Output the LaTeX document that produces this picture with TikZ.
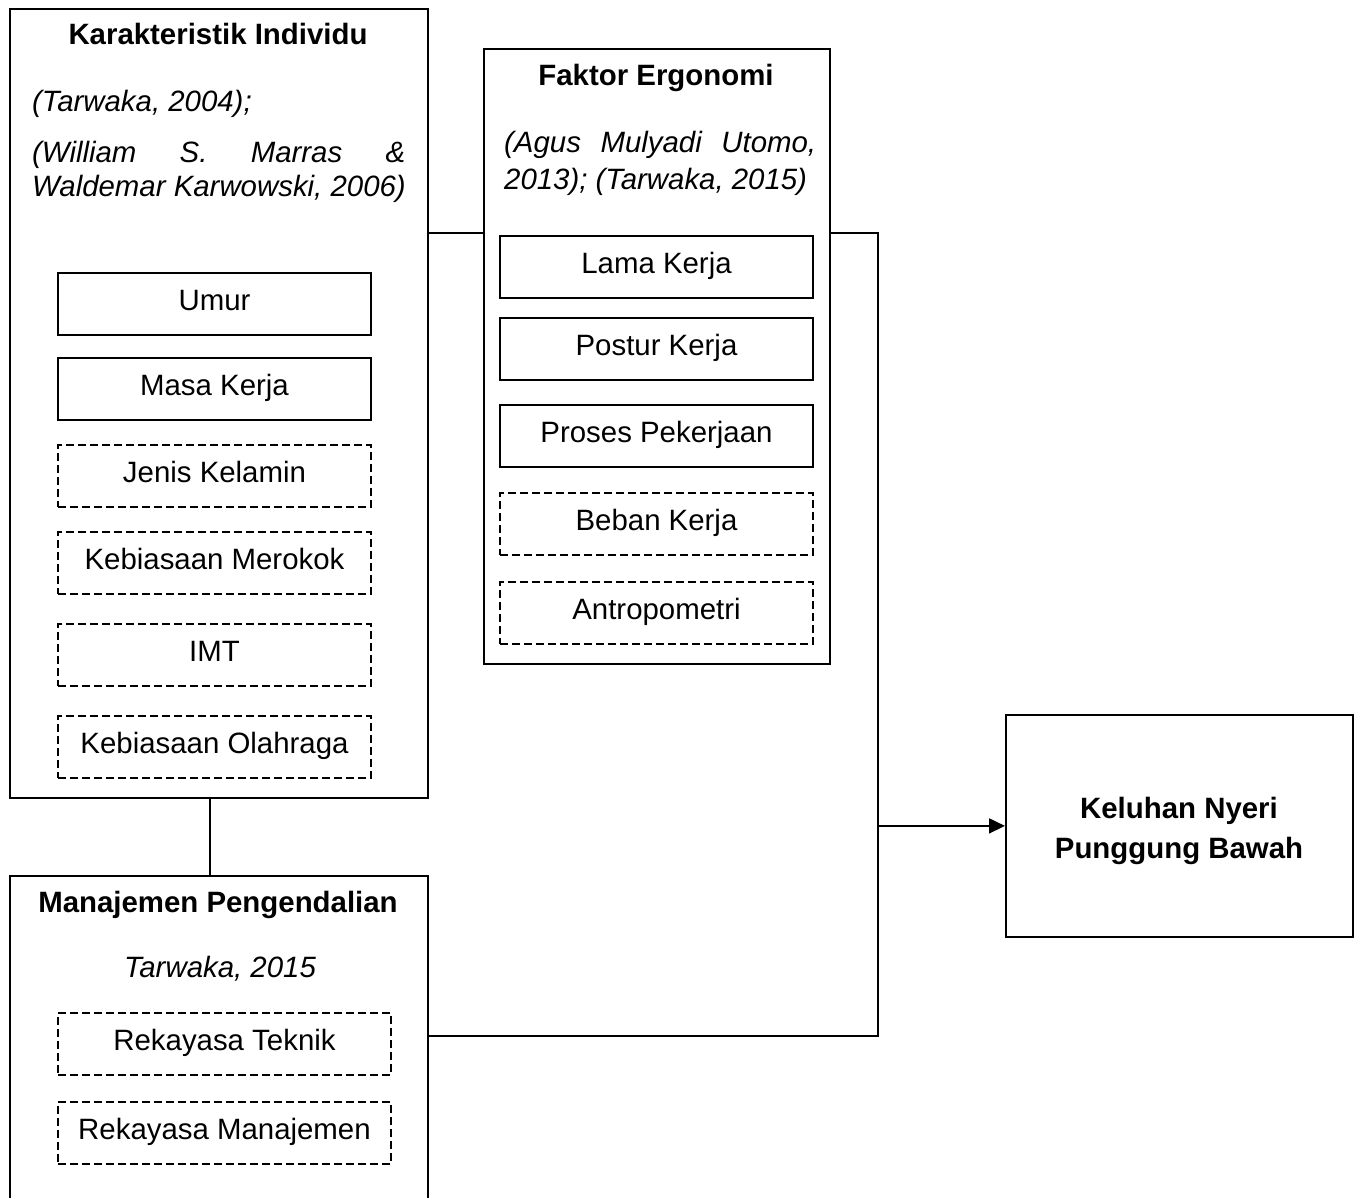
\documentclass[tikz,border=0pt]{standalone}
\usepackage{fontspec}
\setmainfont{Liberation Sans}
\usetikzlibrary{arrows.meta}
\begin{document}
\begin{tikzpicture}[x=1pt,y=-1pt,
  every node/.style={font=\fontsize{29.4}{35}\selectfont},
  outer/.style={draw, line width=1.8pt, anchor=north west, inner sep=0pt},
  item/.style={draw, line width=1.8pt, anchor=north, inner xsep=0pt, inner ysep=0pt, text height=38pt, text depth=24pt, minimum width=313pt},
  itemdash/.style={item, dash pattern=on 8pt off 4pt},
  conn/.style={line width=1.8pt},
  arr/.style={conn, -{Triangle[length=16pt,width=15pt]}},
  txt/.style={inner sep=0pt, anchor=base},
  txtl/.style={inner sep=0pt, anchor=base west},
  ttlb/.style={txt, font=\fontsize{29.4}{35}\selectfont\bfseries},
  itl/.style={font=\fontsize{29.4}{35}\selectfont\itshape},
]
\useasboundingbox (0,0) rectangle (1362,1198);

% Karakteristik Individu
\node[outer, minimum width=418pt, minimum height=789pt] (ki) at (9,8) {};
\node[ttlb] (kit) at (218,45) {Karakteristik Individu};
\node[txtl, itl] (kir1) at (32,112) {(Tarwaka, 2004);};
\node[txtl, itl] (kir2) at (32,163) {\makebox[373pt][s]{(William S. Marras \&}};
\node[txtl, itl] (kir3) at (32,197) {Waldemar Karwowski, 2006)};
\node[item] (umur) at (214.5,272) {Umur};
\node[item] (masa) at (214.5,357) {Masa Kerja};
\node[itemdash] (jk) at (214.5,444) {Jenis Kelamin};
\node[itemdash] (km) at (214.5,531) {Kebiasaan Merokok};
\node[itemdash] (imt) at (214.5,623) {IMT};
\node[itemdash] (ko) at (214.5,715) {Kebiasaan Olahraga};

% Faktor Ergonomi
\node[outer, minimum width=346pt, minimum height=615pt] (fe) at (483,48) {};
\node[ttlb] (fet) at (656,86) {Faktor Ergonomi};
\node[txtl, itl] (fer1) at (504,153) {\makebox[312pt][s]{(Agus Mulyadi Utomo,}};
\node[txtl, itl] (fer2) at (504,190) {2013); (Tarwaka, 2015)};
\node[item] (lk) at (656.5,235) {Lama Kerja};
\node[item] (pk) at (656.5,317) {Postur Kerja};
\node[item] (pp) at (656.5,404) {Proses Pekerjaan};
\node[itemdash] (bk) at (656.5,492) {Beban Kerja};
\node[itemdash] (ap) at (656.5,581) {Antropometri};

% Manajemen Pengendalian
\node[outer, minimum width=418pt, minimum height=337pt] (mp) at (9,875) {};
\node[ttlb] (mpt) at (218,912) {Manajemen Pengendalian};
\node[txt, itl] (mpr) at (220,977) {Tarwaka, 2015};
\node[itemdash, minimum width=333pt] (rt) at (224.5,1012) {Rekayasa Teknik};
\node[itemdash, minimum width=333pt] (rm) at (224.5,1101) {Rekayasa Manajemen};

% Keluhan
\node[outer, minimum width=347pt, minimum height=222pt] (kl) at (1005,714) {};
\node[ttlb] (kl1) at (1179,818) {Keluhan Nyeri};
\node[ttlb] (kl2) at (1179,858) {Punggung Bawah};

% connectors
\coordinate (jtop) at (878,233);
\coordinate (jbot) at (878,1036);
\coordinate (vx) at (210,0);
\draw[conn] (ki.east |- jtop) -- (fe.west |- jtop);
\draw[conn] (fe.east |- jtop) -- (jtop) -- (jbot) -- (mp.east |- jbot);
\draw[conn] (ki.south -| vx) -- (mp.north -| vx);
\draw[arr] (jtop |- kl.west) -- (kl.west);
\end{tikzpicture}
\end{document}
